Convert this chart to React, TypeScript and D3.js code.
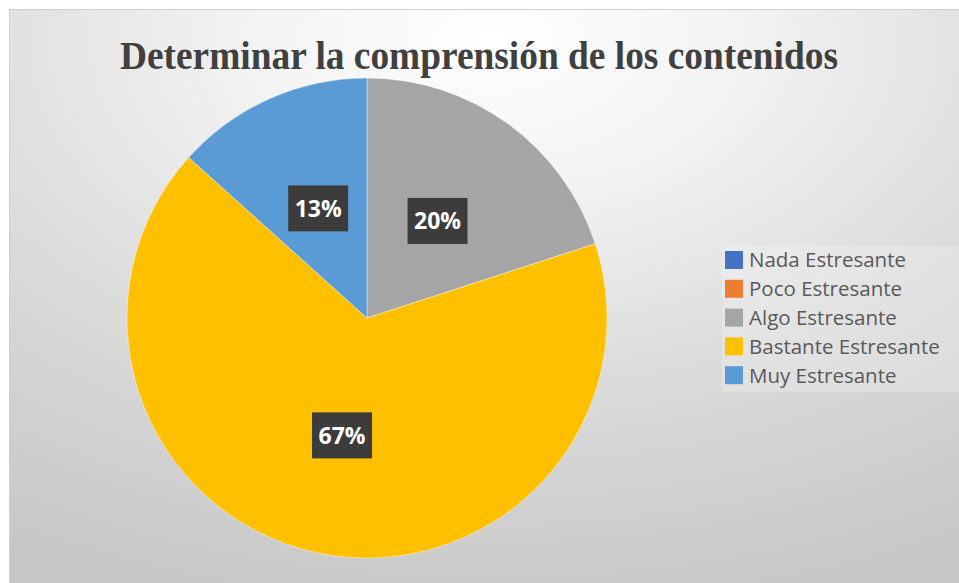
import React from "react";
import * as d3 from "d3";

const categories = ["Nada Estresante", "Poco Estresante", "Algo Estresante", "Bastante Estresante", "Muy Estresante"];
const values = [0, 0, 3, 10, 2];
const colors = ["#4472c4", "#ed7d31", "#a5a5a5", "#ffc000", "#5b9bd5"];
const title = "Determinar la comprensión de los contenidos";

export default function App() {
  const W = 959, H = 583;
  const cx = 367, cy = 318, R = 240;
  const total = d3.sum(values);
  const pie = d3.pie<number>().sort(null).value((d) => d)(values);
  const arc = d3.arc<d3.PieArcDatum<number>>().innerRadius(0).outerRadius(R);
  const fmt = d3.format(".0%");

  return (
    <svg width={W} height={H} style={{ position: "absolute", left: 0, top: 0 }}>
      <defs>
        <radialGradient id="bg" cx="0.5" cy="0.05" r="1.0" fx="0.5" fy="0.05">
          <stop offset="0" stopColor="#ffffff" />
          <stop offset="0.25" stopColor="#f3f3f3" />
          <stop offset="0.6" stopColor="#dadada" />
          <stop offset="1" stopColor="#c6c6c6" />
        </radialGradient>
        <pattern id="dots" width="4" height="4" patternUnits="userSpaceOnUse">
          <rect width="4" height="4" fill="#3b3b3b" />
          <rect x="1" y="1" width="1" height="1" fill="#4a4a4a" />
        </pattern>
      </defs>
      <rect x={0} y={0} width={W} height={H} fill="#ffffff" />
      <rect x={9.5} y={9.5} width={W + 10} height={H + 10} fill="url(#bg)" stroke="#cfcfcf" strokeWidth={1} />
      <text
        x={479}
        y={69}
        textAnchor="middle"
        fontFamily="'Liberation Serif', 'Times New Roman', serif"
        fontWeight="bold"
        fontSize={40}
        fill="#404040"
        textLength={718}
        lengthAdjust="spacingAndGlyphs"
      >
        {title}
      </text>
      <g transform={`translate(${cx},${cy})`}>
        {pie.map((d, i) => (
          <path key={i} d={arc(d) || ""} fill={colors[i]} stroke="#ffffff" strokeWidth={0.4} />
        ))}
        {pie.map((d, i) => {
          if (d.value === 0) return null;
          const [lx, ly] = arc.centroid(d);
          const bw = 60, bh = 46;
          return (
            <g key={"l" + i} transform={`translate(${lx},${ly})`}>
              <rect x={-bw / 2} y={-bh / 2} width={bw} height={bh} fill="url(#dots)" />
              <text
                x={0}
                y={0}
                dy="0.36em"
                textAnchor="middle"
                fontFamily="'Open Sans', sans-serif"
                fontWeight="bold"
                fontSize={23}
                fill="#ffffff"
              >
                {fmt(d.value / total)}
              </text>
            </g>
          );
        })}
      </g>
      <rect x={722} y={246} width={237} height={146} fill="#ffffff" fillOpacity={0.22} />
      {categories.map((c, i) => (
        <g key={c} transform={`translate(725,${251 + i * 28.8})`}>
          <rect x={0} y={0} width={18} height={18} fill={colors[i]} />
          <text
            x={24}
            y={9}
            dy="0.36em"
            fontFamily="'Open Sans', sans-serif"
            fontSize={20.5}
            fill="#595959"
          >
            {c}
          </text>
        </g>
      ))}
    </svg>
  );
}
